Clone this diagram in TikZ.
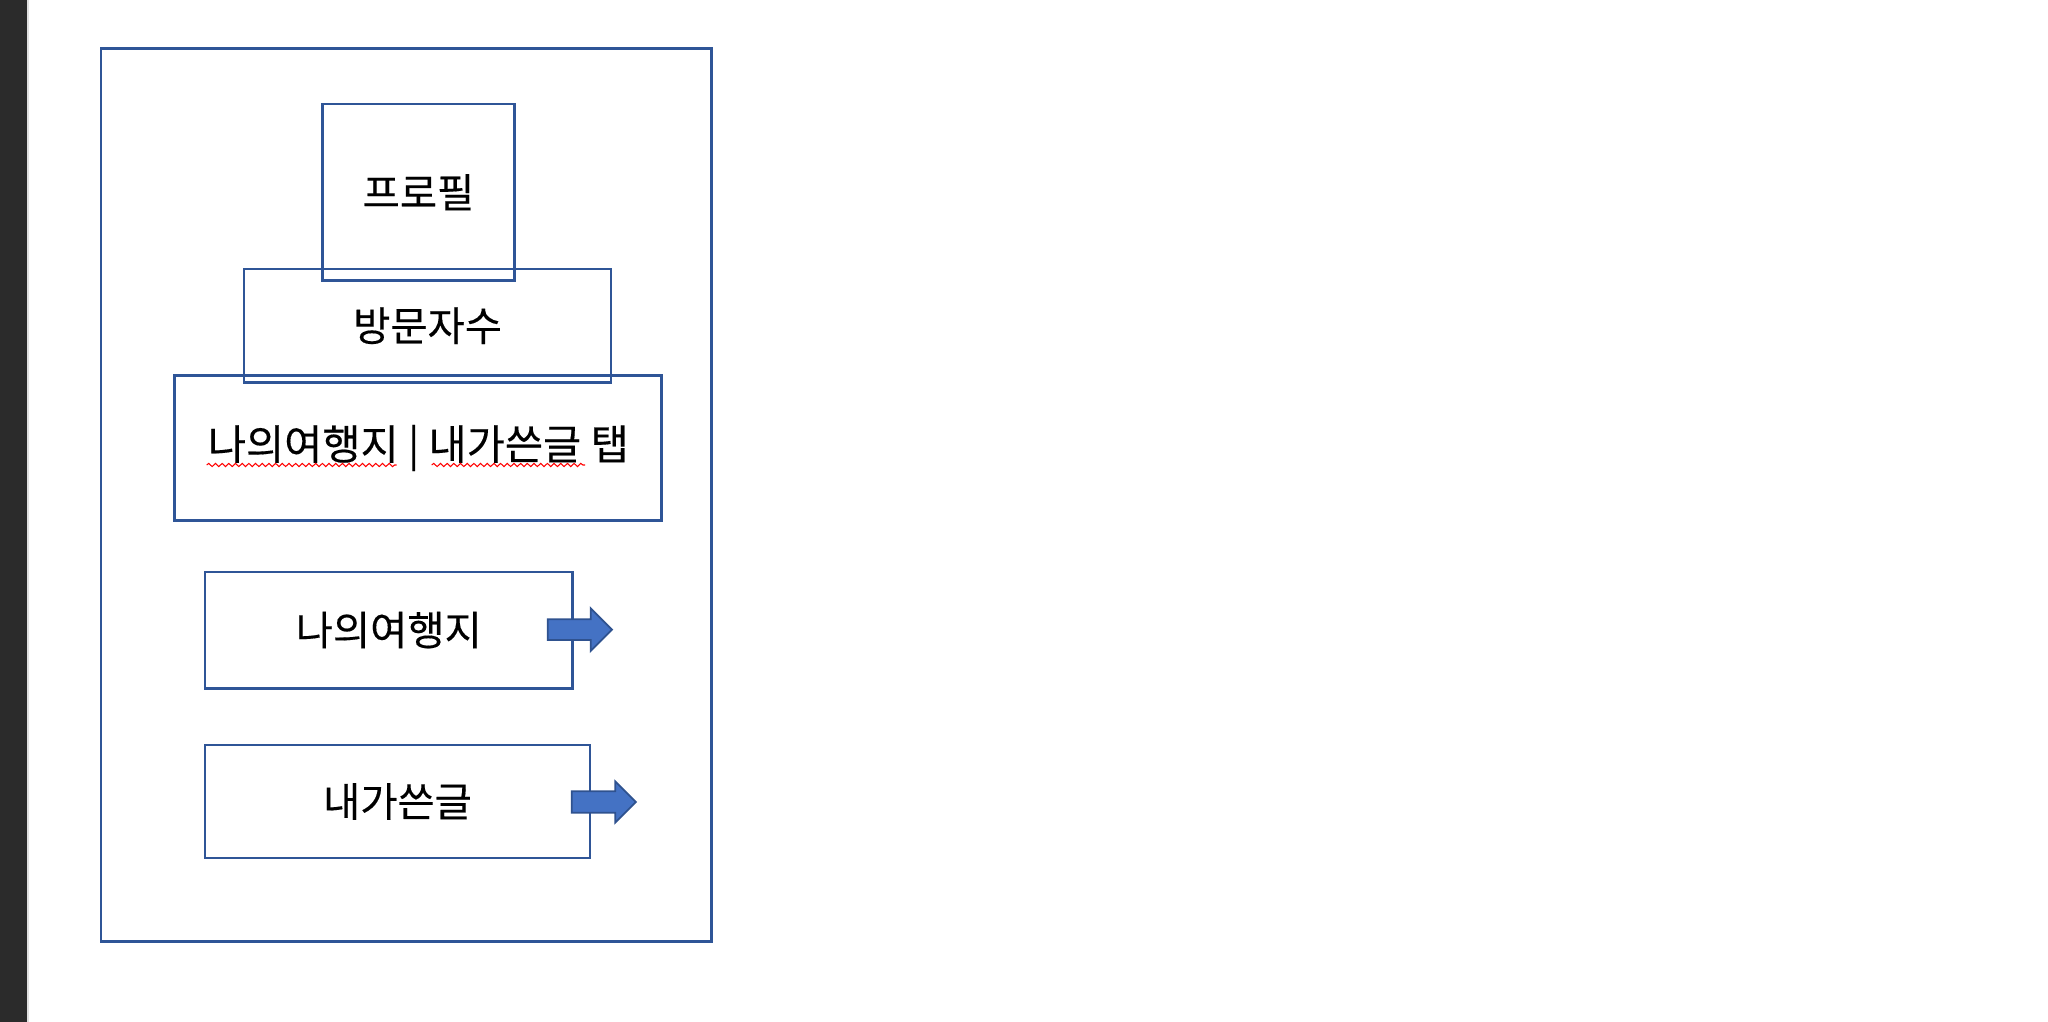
\documentclass[tikz,border=0pt]{standalone}
\usepackage{fontspec}
\newfontfamily\krfont[FakeBold=0.3]{Noto Sans CJK KR}
\usepackage{tikz}
\usetikzlibrary{decorations.pathmorphing}
\definecolor{frameblue}{HTML}{2F5597}
\definecolor{arrowblue}{HTML}{4472C4}
\definecolor{arrowedge}{HTML}{2F528F}
\definecolor{sidebar}{HTML}{2B2B2B}

\begin{document}
\begin{tikzpicture}[
  x=0.01cm, y=-0.01cm,
  panel/.style={
    draw=frameblue,
    line width=0.75pt,
    inner sep=0pt,
    align=center,
    font=\krfont\fontsize{11.5pt}{13.5pt}\selectfont
  },
  blockarrow/.style={
    draw=arrowedge,
    fill=arrowblue,
    line width=0.5pt,
    line join=miter
  },
  spellmark/.style={
    draw=red,
    line width=0.3pt,
    decorate,
    decoration={snake, amplitude=0.45pt, segment length=1.9pt}
  }
]
\useasboundingbox (0,0) rectangle (2048,1022);

% Window edge
\fill[sidebar] (0,0) rectangle (27,1022);
\fill[black!12] (27,0) rectangle (29,1022);

% Page frame
\node[panel, minimum width=6.10cm, minimum height=8.92cm] (page) at (406,495) {};

% Header boxes
\node[panel, minimum width=1.916cm, minimum height=1.767cm] (profile) at (418.5,192.3) {프로필};
\node[panel, minimum width=3.668cm, minimum height=1.137cm] (visits) at (427.6,325.8) {방문자수};
\node[panel, minimum width=4.867cm, minimum height=1.443cm,
  font=\krfont\fontsize{11.8pt}{13.5pt}\selectfont] (tabs) at (418.3,448) {나의여행지 | 내가쓴글 탭};

% Spell-check marks
\draw[spellmark] (206.7,465) -- (396.7,465);
\draw[spellmark] (431.7,465) -- (585,465);

% Tab contents
\node[panel, minimum width=3.677cm, minimum height=1.163cm] (trips) at (388.8,630.1) {나의여행지};
\node[panel, minimum width=3.85cm, minimum height=1.13cm] (posts) at (397.5,801.5) {내가쓴글};

% Block arrows
\coordinate (tripsgo) at (547.7,629.6);
\coordinate (postsgo) at (571.7,802);
\draw[blockarrow] (tripsgo) ++(0,-10.3) -- ++(43,0) -- ++(0,-11) -- ++(21.3,21.3)
  -- ++(-21.3,21.3) -- ++(0,-11) -- ++(-43,0) -- cycle;
\draw[blockarrow] (postsgo) ++(0,-10.8) -- ++(43.6,0) -- ++(0,-9.7) -- ++(20.5,20.5)
  -- ++(-20.5,20.5) -- ++(0,-9.7) -- ++(-43.6,0) -- cycle;

\end{tikzpicture}
\end{document}
